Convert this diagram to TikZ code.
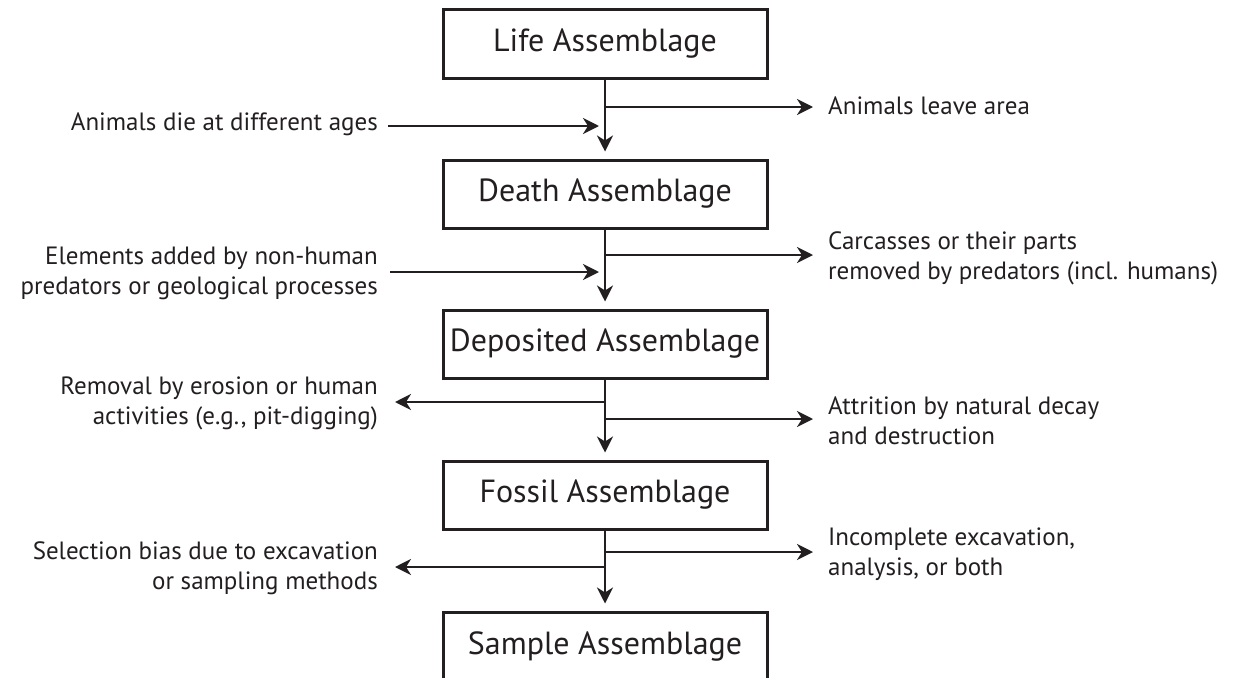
\documentclass[tikz,border=0pt]{standalone}
\usepackage{fontspec}
\setmainfont{PT Sans}
\usetikzlibrary{arrows.meta}
\definecolor{ink}{HTML}{231F20}
\tikzset{
  stagebox/.style={draw=ink, line width=3pt, minimum width=324pt, minimum height=68pt,
    inner sep=0pt, font=\fontsize{32}{38}\selectfont, text=ink},
  sidelab/.style={inner sep=0pt, font=\fontsize{25}{30}\selectfont, text=ink},
  conn/.style={draw=ink, line width=2.6pt, -{Stealth[length=16pt,width=16pt,inset=5pt]}},
}
\begin{document}
\begin{tikzpicture}[x=1pt,y=-1pt]
\useasboundingbox (0,0) rectangle (1238,677);
\clip (0,0) rectangle (1238,677);
% stage boxes
\node[stagebox] (life)   at (605,44)  {Life Assemblage};
\node[stagebox] (death)  at (605,194) {Death Assemblage};
\node[stagebox] (dep)    at (605,344) {Deposited Assemblage};
\node[stagebox] (fossil) at (605,495) {Fossil Assemblage};
\node[stagebox] (sample) at (605,646) {Sample Assemblage};
% branch points on the trunk
\coordinate (r1) at (605,107);
\coordinate (l1) at (605,126);
\coordinate (r2) at (605,255);
\coordinate (l2) at (605,272);
\coordinate (l3) at (605,402);
\coordinate (r3) at (605,419);
\coordinate (r4) at (605,552);
\coordinate (l4) at (605,567);
% side labels
\node[sidelab, anchor=east] (in1) at (378,124) {Animals die at different ages};
\node[sidelab, anchor=west] (out1) at (828,106) {Animals leave area};
\node[sidelab, anchor=east, align=right] (in2) at (378,273) {Elements added by non-human\\predators or geological processes};
\node[sidelab, anchor=west, align=left] (out2) at (828,258) {Carcasses or their parts\\removed by predators (incl. humans)};
\node[sidelab, anchor=east, align=right] (out3) at (378,403) {Removal by erosion or human\\activities (e.g., pit-digging)};
\node[sidelab, anchor=west, align=left] (out4) at (828,421) {Attrition by natural decay\\and destruction};
\node[sidelab, anchor=east, align=right] (out5) at (378,568) {Selection bias due to excavation\\or sampling methods};
\node[sidelab, anchor=west, align=left] (out6) at (828,554) {Incomplete excavation,\\analysis, or both};
% trunk
\draw[conn, shorten >=7pt] (life.south) -- (death.north);
\draw[conn, shorten >=7pt] (death.south) -- (dep.north);
\draw[conn, shorten >=7pt] (dep.south) -- (fossil.north);
\draw[conn, shorten >=7pt] (fossil.south) -- (sample.north);
% branches
\draw[conn] (r1) -- ([xshift=-15pt]out1.west |- r1);
\draw[conn] ([xshift=10pt]in1.east |- l1) -- ([xshift=-6pt]l1);
\draw[conn] (r2) -- ([xshift=-15pt]out2.west |- r2);
\draw[conn] ([xshift=12pt]in2.east |- l2) -- ([xshift=-6pt]l2);
\draw[conn] (l3) -- ([xshift=17pt]out3.east |- l3);
\draw[conn] (r3) -- ([xshift=-15pt]out4.west |- r3);
\draw[conn] (r4) -- ([xshift=-15pt]out6.west |- r4);
\draw[conn] (l4) -- ([xshift=17pt]out5.east |- l4);
\end{tikzpicture}
\end{document}
